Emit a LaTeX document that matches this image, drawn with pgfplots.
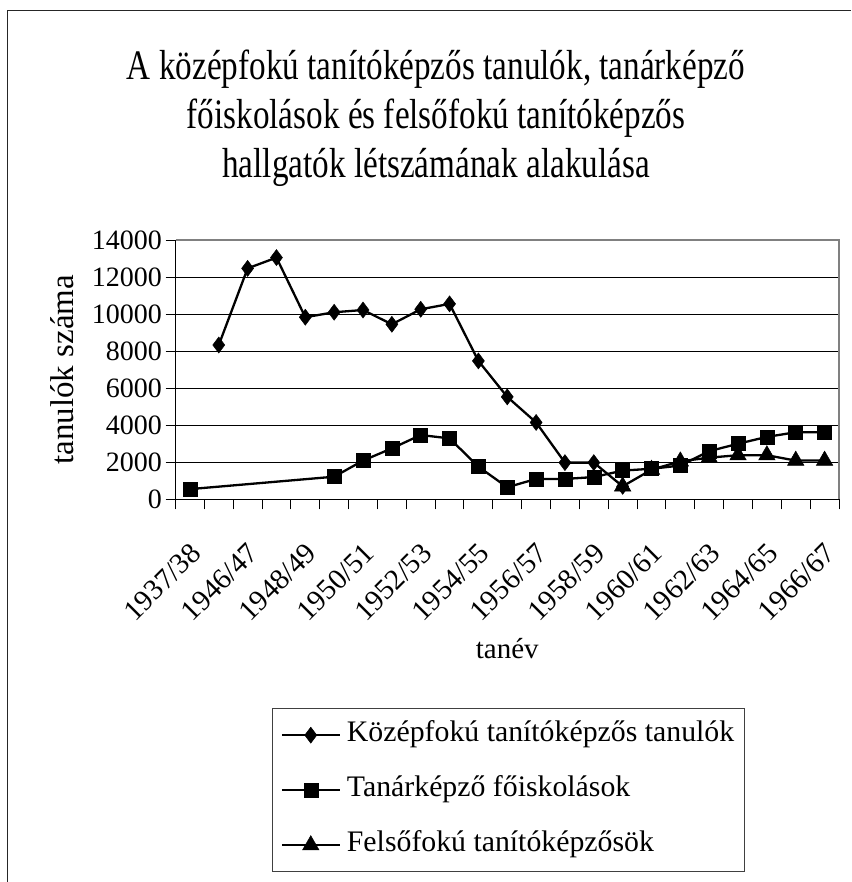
\documentclass[border=0pt]{standalone}
\usepackage{fontspec}
\setmainfont{Liberation Serif}
\newfontfamily\titlefont{Liberation Serif}[FakeStretch=0.79]
\usepackage{pgfplots}
\pgfplotsset{compat=1.18}

\pgfplotstableread{
x y
1 8330
2 12470
3 13050
4 9830
5 10100
6 10220
7 9450
8 10260
9 10550
10 7470
11 5530
12 4150
13 1980
14 1980
15 700
}\kozep
\pgfplotstableread{
x y
0 550
5 1220
6 2090
7 2750
8 3470
9 3290
10 1760
11 650
12 1100
13 1100
14 1200
15 1550
16 1650
17 1820
18 2600
19 3000
20 3370
21 3620
22 3620
}\tanar
\pgfplotstableread{
x y
15 700
16 1600
17 2050
18 2250
19 2380
20 2380
21 2090
22 2090
}\felso

\begin{document}
\begin{tikzpicture}
\useasboundingbox (0pt,0pt) rectangle (851pt,-882pt);
\draw[line width=1.3pt, black!85] (7.3pt,-882pt) -- (7.3pt,-10.7pt) -- (851pt,-10.7pt);
\node[anchor=base, font=\titlefont\fontsize{42}{48}\selectfont, inner sep=0pt] at (436pt,-80pt) {A középfokú tanítóképzős tanulók, tanárképző};
\node[anchor=base, font=\titlefont\fontsize{42}{48}\selectfont, inner sep=0pt] at (436pt,-129pt) {főiskolások és felsőfokú tanítóképzős};
\node[anchor=base, font=\titlefont\fontsize{42}{48}\selectfont, inner sep=0pt] at (436pt,-178pt) {hallgatók létszámának alakulása};
\begin{axis}[
  at={(175.5pt,-499.3pt)}, anchor=south west,
  scale only axis, width=663.5pt, height=259.3pt,
  xmin=-0.5, xmax=22.5, ymin=0, ymax=14000,
  axis x line*=bottom, axis y line*=left,
  axis line style={black, line width=1.3pt},
  clip=false,
  scaled y ticks=false,
  /pgf/number format/assume math mode=true,
  /pgf/number format/1000 sep={},
  ytick={0,2000,...,14000},
  yticklabel style={font=\fontsize{28}{28}\selectfont},
  ymajorgrids, major grid style={black, line width=0.9pt},
  tick align=outside, major tick length=10pt,
  tick style={black, line width=1pt},
  xtick={-0.5,0.5,...,22.5}, xticklabels=\empty,
  extra x ticks={0,2,...,22},
  extra x tick labels={1937/38,1946/47,1948/49,1950/51,1952/53,1954/55,1956/57,1958/59,1960/61,1962/63,1964/65,1966/67},
  extra x tick style={major tick length=0pt},
  xticklabel shift=49pt,
  xticklabel style={xshift=6pt, font=\fontsize{29}{29}\selectfont, rotate=45, anchor=east, inner sep=0pt},
  xlabel={tanév},
  xlabel style={font=\fontsize{29}{29}\selectfont, at={(axis description cs:0.5,-0.615)}, anchor=base},
  ylabel={tanulók száma},
  ylabel style={font=\fontsize{33}{33}\selectfont, at={(axis description cs:-0.1711,0.5)}, anchor=center, rotate=0},
  legend style={at={(axis description cs:0.1454,-0.8049)}, anchor=north west,
    draw=black!75, line width=1.3pt, inner xsep=8pt, inner ysep=11pt,
    row sep=24pt, font=\fontsize{29.8}{29.8}\selectfont,
    nodes={inner sep=2pt, text height=20pt, text depth=7pt},
    /tikz/every odd column/.append style={column sep=4pt}},
  legend cell align=left,
  legend image code/.code={
    \draw[mark repeat=2, mark phase=2, #1] plot coordinates {(0pt,0pt) (29pt,0pt) (58pt,0pt)};
  },
]
\addplot[black, line width=2.3pt, mark=diamond*, mark size=8pt, mark options={solid, line width=0.5pt}] table[x=x,y=y] {\kozep};
\addlegendentry{Középfokú tanítóképzős tanulók}
\addplot[black, line width=2.3pt, mark=square*, mark size=7pt, mark options={solid, line width=0.5pt}] table[x=x,y=y] {\tanar};
\addlegendentry{Tanárképző főiskolások}
\addplot[black, line width=2.3pt, mark=triangle*, mark size=9.5pt, mark options={solid, line width=0.5pt}] table[x=x,y=y] {\felso};
\addlegendentry{Felsőfokú tanítóképzősök}
\draw[gray, line width=2pt] (rel axis cs:0,1) -- (rel axis cs:1,1) -- (rel axis cs:1,0);
\end{axis}
\end{tikzpicture}
\end{document}
